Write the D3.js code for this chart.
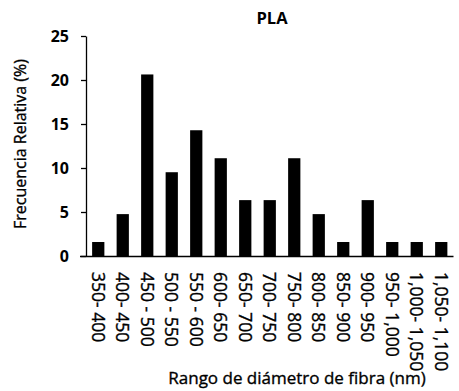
<!DOCTYPE html>
<html>
<head>
<meta charset="utf-8">
<script src="https://cdn.jsdelivr.net/npm/d3@7"></script>
<style>
  html, body { margin: 0; padding: 0; background: #fff; }
  svg text { font-family: "Open Sans", "Noto Sans", sans-serif; fill: #000; }
  svg text.heavy { stroke: #000; stroke-width: 0.35px; }
</style>
</head>
<body>
<svg id="chart" width="459" height="391"></svg>
<script>
// Fibre diameter ranges (nm) and relative frequency (%) of each range
const ranges = ["350- 400", "400- 450", "450 - 500", "500 - 550", "550 - 600",
                "600- 650", "650- 700", "700- 750", "750- 800", "800- 850",
                "850- 900", "900- 950", "950- 1,000", "1,000- 1,050", "1,050- 1,100"];
const frequency = [1.59, 4.76, 20.63, 9.52, 14.29, 11.11, 6.35, 6.35, 11.11, 4.76,
                   1.59, 6.35, 1.59, 1.59, 1.59];
const yTicks = [0, 5, 10, 15, 20, 25];
const title = "PLA";
const xTitle = "Rango de diámetro de fibra (nm)";
const yTitle = "Frecuencia Relativa (%)";

const svg = d3.select("#chart");
const margin = { left: 86, top: 36 };
const plotRight = 453.5;
const y0 = 256;

const x = d3.scaleBand().domain(ranges).range([margin.left, plotRight])
  .paddingInner(0.5).paddingOuter(0.25);
const y = d3.scaleLinear().domain([0, 25]).range([y0, margin.top]);

// bars
svg.append("g").selectAll("rect").data(frequency).join("rect")
  .attr("x", (d, i) => x(ranges[i]))
  .attr("y", d => y(d))
  .attr("width", x.bandwidth())
  .attr("height", d => y(0) - y(d))
  .attr("fill", "#000");

// y axis
const yAxis = svg.append("g").attr("transform", `translate(${margin.left},0)`)
  .call(d3.axisLeft(y).tickValues(yTicks).tickSize(5).tickPadding(12).tickSizeOuter(0));
yAxis.select(".domain").attr("stroke", "#000").attr("stroke-width", 1.3);
yAxis.selectAll(".tick line").attr("stroke", "#000").attr("stroke-width", 1.3);
yAxis.selectAll(".tick text").attr("font-size", 16).attr("font-weight", "bold")
  .attr("font-family", "Open Sans");

// x axis (no ticks), labels rotated to read top-to-bottom
const xAxis = svg.append("g").attr("transform", `translate(0,${y0})`)
  .call(d3.axisBottom(x).tickSize(0).tickSizeOuter(0));
xAxis.select(".domain").attr("d", `M${margin.left - 6},0.5H${plotRight}`)
  .attr("stroke", "#000").attr("stroke-width", 1.3);
xAxis.selectAll(".tick text")
  .attr("class", "heavy")
  .attr("font-size", 17.5)
  .attr("font-family", "Open Sans")
  .attr("text-anchor", "start")
  .attr("dy", null)
  .attr("y", 0)
  .attr("transform", "translate(-6.5,16) rotate(90)");

// titles
svg.append("text").attr("x", 272).attr("y", 24).attr("text-anchor", "middle")
  .attr("font-size", 16.5).attr("font-weight", "bold").text(title);
svg.append("text").attr("class", "heavy").attr("x", 297).attr("y", 384)
  .attr("text-anchor", "middle").attr("font-size", 17).text(xTitle);
svg.append("text").attr("class", "heavy").attr("transform", "translate(26,144) rotate(-90)")
  .attr("text-anchor", "middle").attr("font-size", 16).text(yTitle);
</script>
</body>
</html>
